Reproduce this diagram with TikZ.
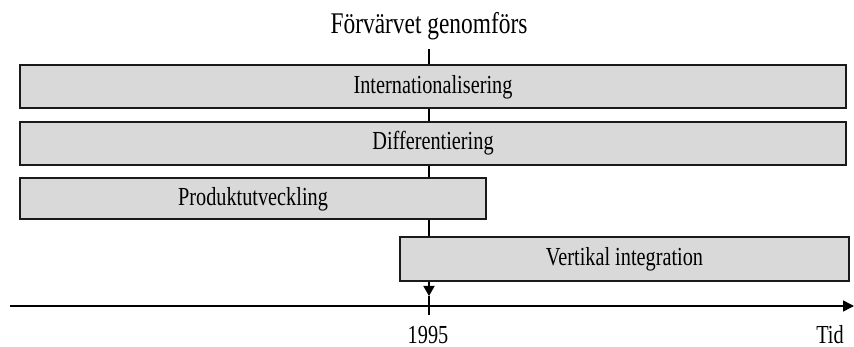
\documentclass[tikz,border=0pt]{standalone}
\usepackage{fontspec}
\usetikzlibrary{arrows.meta}
\newfontfamily\lblfont[FakeStretch=0.78]{Liberation Serif}
\definecolor{barfill}{HTML}{D9D9D9}
\definecolor{ink}{HTML}{1A1A1A}
\tikzset{
  bar/.style={draw=ink, line width=2pt, fill=barfill, inner sep=0pt,
    font=\lblfont\fontsize{26}{26}\selectfont},
  lbl/.style={inner sep=0pt, font=\lblfont\fontsize{26}{26}\selectfont},
  axisline/.style={line width=1.5pt, draw=black},
}
\begin{document}
\begin{tikzpicture}[x=1pt, y=-1pt]
  \useasboundingbox (0,0) rectangle (854,347);

  % event marker and its label
  \node[lbl, font=\lblfont\fontsize{30}{30}\selectfont, anchor=base] (event) at (429,34) {Förvärvet genomförs};
  \coordinate (eventtop) at (429,49);
  \coordinate (eventtip) at (429,296);
  \coordinate (tickend) at (429,315);
  \draw[axisline, -{Triangle[length=10pt,width=11pt]}] (eventtop) -- (eventtip);
  \draw[axisline] (eventtip) -- (tickend);

  % activity bars
  \node[bar, minimum width=826pt, minimum height=43pt] (intl) at (433,87) {Internationalisering};
  \node[bar, minimum width=826pt, minimum height=43pt] (diff) at (433,143.5) {Differentiering};
  \node[bar, minimum width=466pt, minimum height=41pt] (prod) at (253,199) {Produktutveckling};
  \node[bar, minimum width=449pt, minimum height=44pt] (vert) at (624.5,259) {Vertikal integration};

  % time axis
  \coordinate (axstart) at (10,306);
  \coordinate (axend) at (854,306);
  \draw[axisline, -{Triangle[length=11pt,width=11pt]}] (axstart) -- (axend);

  \node[lbl, anchor=base] (year) at (428,343) {1995};
  \node[lbl, anchor=base] (tid) at (830,343) {Tid};
\end{tikzpicture}
\end{document}
